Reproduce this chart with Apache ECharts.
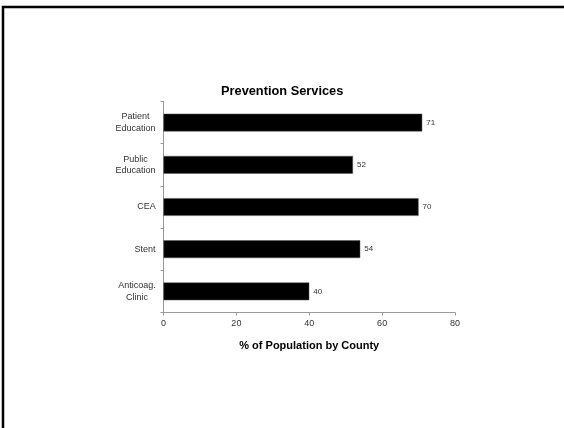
<!DOCTYPE html>
<html>
<head>
<meta charset="utf-8">
<script src="https://cdn.jsdelivr.net/npm/echarts@6/dist/echarts.min.js"></script>
<style>
html,body{margin:0;padding:0;background:#fff;}
#c{width:564px;height:428px;}
</style>
</head>
<body>
<div id="c"></div>
<script>
var categories = ['Patient\nEducation', 'Public\nEducation', 'CEA', 'Stent', 'Anticoag.\nClinic'];
var values = [71, 52, 70, 54, 40];
var xTicks = [0, 20, 40, 60, 80];

var font = 'Liberation Sans, Arial, sans-serif';
var labelSize = 9;
var cv = document.createElement('canvas').getContext('2d');
cv.font = labelSize + 'px Liberation Sans';
var rich = {};
categories.forEach(function (c, i) {
  var w = 0;
  c.split('\n').forEach(function (l) { w = Math.max(w, cv.measureText(l).width); });
  rich['w' + i] = { width: Math.ceil(w) + 1, align: 'center', fontSize: labelSize, color: '#333', lineHeight: 11.5, fontFamily: font };
});

var chart = echarts.init(document.getElementById('c'));
chart.setOption({
  animation: false,
  textStyle: { fontFamily: font },
  title: {
    text: 'Prevention Services',
    left: 221, top: 84.5, padding: 0,
    textStyle: { fontSize: 12.8, fontWeight: 'bold', color: '#000', fontFamily: font }
  },
  graphic: [{
    type: 'rect',
    shape: { x: 3, y: 7, width: 700, height: 600 },
    style: { fill: 'none', stroke: '#000', lineWidth: 2.5 },
    silent: true
  }],
  grid: { left: 163.5, right: 109, top: 101.5, bottom: 115.5, containLabel: false },
  xAxis: {
    type: 'value', min: xTicks[0], max: xTicks[xTicks.length - 1], interval: 20,
    name: '% of Population by County', nameLocation: 'middle', nameGap: 28,
    nameTextStyle: { fontSize: 11, fontWeight: 'bold', color: '#000', fontFamily: font },
    axisLine: { show: true, lineStyle: { color: '#999', width: 1 } },
    axisTick: { show: true, length: 3, lineStyle: { color: '#999' } },
    axisLabel: { fontSize: 9, color: '#333', margin: 7, fontFamily: font },
    splitLine: { show: false }
  },
  yAxis: {
    type: 'category', data: categories, inverse: true,
    axisLine: { show: true, lineStyle: { color: '#999', width: 1 } },
    axisTick: { show: true, length: 3, lineStyle: { color: '#999' } },
    axisLabel: {
      fontSize: labelSize, color: '#333', margin: 7, lineHeight: 11.5, fontFamily: font,
      formatter: function (v, i) {
        return v.split('\n').map(function (l) { return '{w' + i + '|' + l + '}'; }).join('\n');
      },
      rich: rich
    }
  },
  series: [{
    type: 'bar', data: values, barWidth: '42%',
    itemStyle: { color: '#000', borderColor: '#555', borderWidth: 0.5 },
    label: { show: true, position: 'right', distance: 4, fontSize: 8, color: '#333', fontFamily: font }
  }]
});
</script>
</body>
</html>
